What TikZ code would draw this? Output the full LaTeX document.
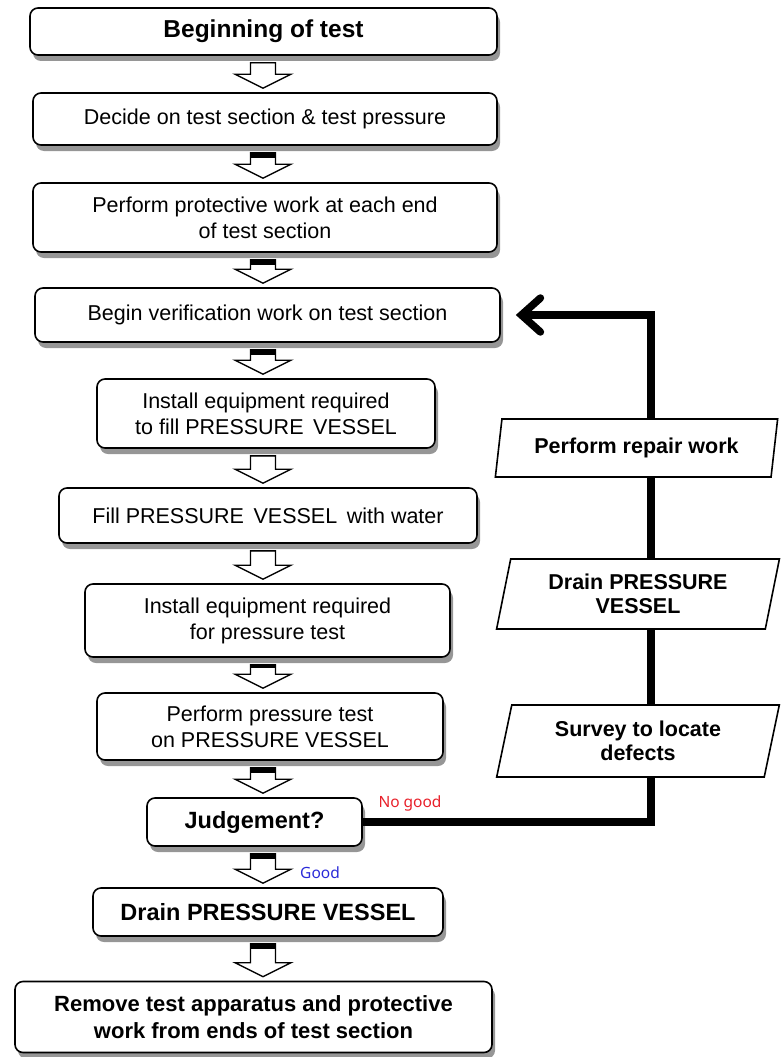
\documentclass[tikz,border=0pt]{standalone}
\usepackage{fontspec}
\setmainfont{Liberation Sans}
\newfontfamily\notefont{Noto Sans}
\usetikzlibrary{shapes.geometric, arrows.meta, calc, shadows}
\definecolor{NoGoodRed}{HTML}{E8202A}
\definecolor{GoodBlue}{HTML}{2A2AD8}
\tikzset{
  stepbox/.style={rectangle, rounded corners=8pt, draw=black, line width=1.6pt, fill=white, inner sep=0pt, align=center, font=\fontsize{21.5}{26}\selectfont, drop shadow={shadow xshift=3pt, shadow yshift=-6pt, fill=black!55, opacity=0.75}},
  boldbox/.style={stepbox, font=\fontsize{23.5}{27}\selectfont\bfseries},
  repairbox/.style={trapezium, trapezium left angle=76, trapezium right angle=104, trapezium stretches=true, draw=black, line width=1.6pt, fill=white, inner sep=0pt, align=center, minimum width=283pt, font=\fontsize{21.5}{24}\selectfont\bfseries},
  blockarrow/.style={draw=black, line width=1.4pt, fill=white, line join=miter},
  loopline/.style={line width=7.5pt, line join=miter},
  note/.style={font=\notefont\fontsize{15.5}{18}\selectfont}
}
% hollow down arrow between two boxes, optional black cap at its top
\newcommand{\flowarrow}[3][0pt]{%
  \filldraw[blockarrow] let \p1=(#2.south), \p2=(#3.north), \p3=(spine) in
    (\x3-12.5pt,\y1-7pt) -- (\x3+12.5pt,\y1-7pt) -- (\x3+12.5pt,\y2+18pt) -- (\x3+28pt,\y2+18pt)
    -- (\x3,\y2+4pt) -- (\x3-28pt,\y2+18pt) -- (\x3-12.5pt,\y2+18pt) -- cycle;
  \fill let \p1=(#2.south), \p3=(spine) in
    (\x3-12.5pt,\y1-7pt) rectangle (\x3+12.5pt,\y1-7pt-#1);}

\begin{document}
\begin{tikzpicture}[x=1pt, y=-1pt]
  \useasboundingbox (0,0) rectangle (781,1057);
  \coordinate (spine) at (263,0);

  % main column
  \node[boldbox, minimum width=467pt, minimum height=47pt, font=\fontsize{24.5}{27}\selectfont\bfseries] (begin) at (263.5,31.5) {Beginning of test};
  \node[stepbox, minimum width=464pt, minimum height=52pt] (decide) at (265,119) {Decide on test section \& test pressure};
  \node[stepbox, minimum width=464pt, minimum height=69pt] (protect) at (265,217.5) {Perform protective work at each end\\of test section};
  \node[stepbox, minimum width=465pt, minimum height=54pt] (verify) at (267.5,315) {Begin verification work on test section};
  \node[stepbox, minimum width=338pt, minimum height=69pt] (fillkit) at (266,413.5) {Install equipment required\\to fill PRESSURE\, VESSEL};
  \node[stepbox, minimum width=418pt, minimum height=55pt] (fill) at (268,515.5) {Fill PRESSURE\, VESSEL\, with water};
  \node[stepbox, minimum width=365pt, minimum height=73pt] (testkit) at (267.5,620.5) {Install equipment required\\for pressure test};
  \node[stepbox, minimum width=346pt, minimum height=67pt] (ptest) at (270,726.5) {Perform pressure test\\on PRESSURE VESSEL};
  \node[boldbox, minimum width=215pt, minimum height=48pt] (judge) at (254.5,822) {Judgement?};
  \node[boldbox, minimum width=350pt, minimum height=48pt] (drain) at (268,912) {Drain PRESSURE VESSEL};
  \node[boldbox, minimum width=477pt, minimum height=71pt, font=\fontsize{22}{27}\selectfont\bfseries] (remove) at (253.5,1017) {Remove test apparatus and protective\\work from ends of test section};

  \flowarrow{begin}{decide}
  \flowarrow[5pt]{decide}{protect}
  \flowarrow[5pt]{protect}{verify}
  \flowarrow[5pt]{verify}{fillkit}
  \flowarrow{fillkit}{fill}
  \flowarrow{fill}{testkit}
  \flowarrow[3pt]{testkit}{ptest}
  \flowarrow[5pt]{ptest}{judge}
  \flowarrow[5pt]{judge}{drain}
  \flowarrow[5pt]{drain}{remove}

  % repair loop
  \coordinate (loopturn) at (651,315);
  \draw[loopline, -{Straight Barb[length=19pt, width=34pt, line cap=round]}, shorten >=15pt]
    (judge.east) -- (judge.east -| loopturn) -- (loopturn) -- (verify.east);

  \node[repairbox, minimum height=58pt] (repair) at (636.5,448) {Perform repair work};
  \node[repairbox, minimum height=70pt] (drainloop) at (638,594) {Drain PRESSURE\\VESSEL};
  \node[repairbox, minimum height=72pt] (survey) at (638,741) {Survey to locate\\defects};

  \node[note, text=NoGoodRed] (nogood) at (410,803) {No good};
  \node[note, text=GoodBlue] (good) at (320,873) {Good};
\end{tikzpicture}
\end{document}
